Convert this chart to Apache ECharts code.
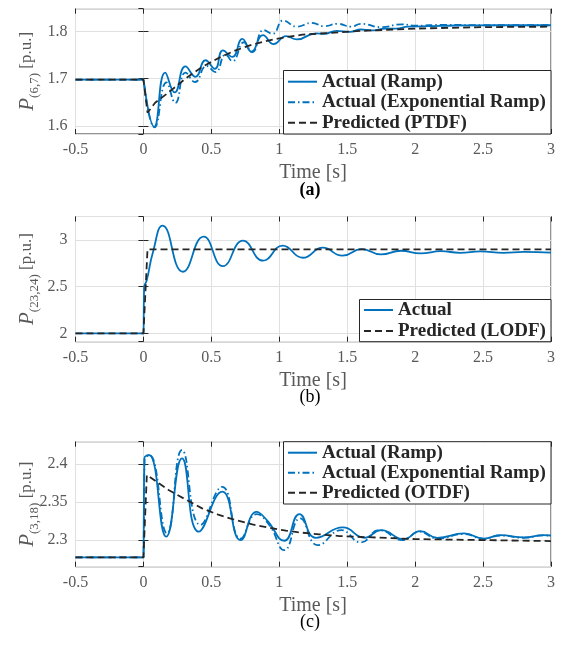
<!DOCTYPE html>
<html>
<head>
<meta charset="utf-8">
<script src="https://cdn.jsdelivr.net/npm/echarts@6/dist/echarts.min.js"></script>
<style>
  html, body { margin: 0; padding: 0; background: #fff; }
  #chart { width: 563px; height: 645px; }
</style>
</head>
<body>
<div id="chart"></div>
<script>
// (a) P(6,7), PTDF case
const tA_ramp = [-0.5, 0, 0.003, 0.079, 0.16, 0.23, 0.309, 0.383, 0.457, 0.526, 0.585, 0.654, 0.728, 0.795, 0.88, 0.958, 1.05, 1.13, 1.27, 1.33, 1.42, 1.52, 1.6, 1.68, 1.78, 1.86, 1.95, 2.1, 2.3, 2.6, 3.0];
const pA_ramp = [1.698, 1.698, 1.697, 1.598, 1.713, 1.671, 1.726, 1.704, 1.739, 1.721, 1.760, 1.746, 1.784, 1.757, 1.792, 1.773, 1.790, 1.783, 1.796, 1.795, 1.801, 1.799, 1.804, 1.802, 1.806, 1.806, 1.810, 1.811, 1.8125, 1.813, 1.813];
const tA_exp = [-0.5, 0, 0.003, 0.082, 0.17, 0.235, 0.31, 0.38, 0.465, 0.53, 0.605, 0.655, 0.74, 0.80, 0.885, 0.95, 1.03, 1.13, 1.24, 1.33, 1.43, 1.53, 1.6, 1.75, 1.9, 2.0, 2.2, 2.5, 3.0];
const pA_exp = [1.698, 1.698, 1.697, 1.597, 1.692, 1.649, 1.713, 1.693, 1.727, 1.714, 1.751, 1.737, 1.777, 1.756, 1.803, 1.795, 1.823, 1.810, 1.818, 1.811, 1.816, 1.810, 1.816, 1.809, 1.815, 1.812, 1.814, 1.813, 1.813];
const tA_ptdf = [-0.5, 0, 0.03, 0.086, 0.185, 0.309, 0.432, 0.556, 0.679, 0.802, 0.926, 1.05, 1.17, 1.38, 1.6, 2.0, 2.5, 3.0];
const pA_ptdf = [1.698, 1.698, 1.628, 1.649, 1.671, 1.700, 1.725, 1.744, 1.760, 1.772, 1.781, 1.788, 1.793, 1.797, 1.801, 1.806, 1.809, 1.810];

// (b) P(23,24), LODF case
const tB_act = [-0.5, 0, 0.001, 0.005, 0.025, 0.07, 0.141, 0.291, 0.444, 0.585, 0.733, 0.881, 1.025, 1.173, 1.32, 1.464, 1.607, 1.749, 1.895, 2.04, 2.19, 2.33, 2.48, 2.65, 2.8, 3.0];
const pB_act = [2.0, 2.0, 2.01, 2.49, 2.57, 2.87, 3.154, 2.66, 3.036, 2.72, 2.993, 2.779, 2.94, 2.81, 2.918, 2.832, 2.903, 2.845, 2.885, 2.856, 2.88, 2.863, 2.878, 2.863, 2.872, 2.865];
const tB_lodf = [-0.5, 0, 0.03, 3.0];
const pB_lodf = [2.0, 2.0, 2.9, 2.9];

// (c) P(3,18), OTDF case
const tC_ramp = [-0.5, 0, 0.001, 0.007, 0.042, 0.168, 0.284, 0.407, 0.58, 0.716, 0.832, 0.91, 1.037, 1.148, 1.27, 1.468, 1.627, 1.749, 1.915, 2.037, 2.163, 2.36, 2.505, 2.627, 2.8, 2.944, 3.0];
const pC_ramp = [2.2772, 2.2772, 2.279, 2.4075, 2.4118, 2.3044, 2.4075, 2.311, 2.3636, 2.300, 2.337, 2.326, 2.2991, 2.334, 2.303, 2.3166, 2.303, 2.313, 2.3013, 2.3118, 2.303, 2.3087, 2.302, 2.3065, 2.3035, 2.3065, 2.306];
const tC_exp = [-0.5, 0, 0.001, 0.008, 0.045, 0.173, 0.284, 0.42, 0.58, 0.716, 0.832, 0.926, 1.037, 1.153, 1.284, 1.456, 1.6, 1.737, 1.907, 2.03, 2.163, 2.36, 2.505, 2.627, 2.8, 2.944, 3.0];
const pC_exp = [2.2772, 2.2772, 2.279, 2.405, 2.4115, 2.309, 2.4184, 2.320, 2.370, 2.302, 2.334, 2.320, 2.2868, 2.3285, 2.2934, 2.313, 2.297, 2.313, 2.300, 2.311, 2.302, 2.308, 2.3015, 2.306, 2.303, 2.3062, 2.3058];
const tC_otdf = [-0.5, 0, 0.025, 0.185, 0.309, 0.432, 0.556, 0.679, 0.802, 0.926, 1.049, 1.173, 1.296, 1.444, 2.0, 2.5, 3.0];
const pC_otdf = [2.2772, 2.2772, 2.3855, 2.3658, 2.3535, 2.3417, 2.333, 2.3263, 2.3206, 2.3162, 2.3123, 2.3096, 2.3075, 2.3053, 2.3013, 2.300, 2.2987];

const yRanges = [[1.583, 1.848], [1.91, 3.252], [2.265, 2.4293]];
const ySubs = ['(6,7)', '(23,24)', '(3,18)'];
const captions = ['(a)', '(b)', '(c)'];

const SERIF = '"Liberation Serif", "Times New Roman", serif';
const BLUE = '#0072BD';
const DARK = '#262626';
const GREY = '#595959';

const grids = [
  { left: 75.5, top: 8.7, width: 475.5, height: 125.3 },
  { left: 75.5, top: 216.5, width: 475.5, height: 125.2 },
  { left: 75.5, top: 441.7, width: 475.5, height: 125 }
];

const zip = (t, v) => t.map((x, i) => [x, v[i]]);

const xAxes = [], yAxes = [];
grids.forEach((g, i) => {
  const tick = { inside: true, length: 5, lineStyle: { color: DARK } };
  xAxes.push({
    type: 'value', gridIndex: i, min: -0.5, max: 3, interval: 0.5, position: 'bottom',
    axisLine: { show: false }, axisTick: tick,
    axisLabel: { fontFamily: SERIF, fontSize: 16, color: GREY, margin: 8 },
    splitLine: { lineStyle: { color: '#e0e0e0' } }
  });
  xAxes.push({
    type: 'value', gridIndex: i, min: -0.5, max: 3, interval: 0.5, position: 'top',
    axisLine: { show: false }, axisTick: tick, axisLabel: { show: false }, splitLine: { show: false }
  });
  yAxes.push({
    type: 'value', gridIndex: i, min: yRanges[i][0], max: yRanges[i][1], splitNumber: 3, position: 'left',
    axisLine: { show: false }, axisTick: tick,
    axisLabel: { fontFamily: SERIF, fontSize: 16, color: GREY, margin: 8, showMinLabel: false, showMaxLabel: false },
    splitLine: { lineStyle: { color: '#e0e0e0' } }
  });
  yAxes.push({
    type: 'value', gridIndex: i, min: yRanges[i][0], max: yRanges[i][1], splitNumber: 3, position: 'right',
    axisLine: { show: false }, axisTick: tick, axisLabel: { show: false }, splitLine: { show: false }
  });
});

function line(name, t, v, gi, color, type, smooth) {
  return {
    type: 'line', name: name, data: zip(t, v), xAxisIndex: gi * 2, yAxisIndex: gi * 2,
    symbol: 'none', showSymbol: false, smooth: smooth, animation: false,
    lineStyle: { color: color, width: 1.8, type: type }, itemStyle: { color: color }
  };
}
const DASHDOT = [7, 3, 1.5, 3];
const DASHED = [7, 4];

const series = [
  line('Actual (Ramp)', tA_ramp, pA_ramp, 0, BLUE, 'solid', 0.5),
  line('Actual (Exponential Ramp)', tA_exp, pA_exp, 0, BLUE, DASHDOT, 0.5),
  line('Predicted (PTDF)', tA_ptdf, pA_ptdf, 0, DARK, DASHED, false),
  line('Actual', tB_act, pB_act, 1, BLUE, 'solid', 0.5),
  line('Predicted (LODF)', tB_lodf, pB_lodf, 1, DARK, DASHED, false),
  line('Actual (Ramp)', tC_ramp, pC_ramp, 2, BLUE, 'solid', 0.5),
  line('Actual (Exponential Ramp)', tC_exp, pC_exp, 2, BLUE, DASHDOT, 0.5),
  line('Predicted (OTDF)', tC_otdf, pC_otdf, 2, DARK, DASHED, false)
];

const legText = { fontFamily: SERIF, fontWeight: 'bold', fontSize: 19, color: DARK, lineHeight: 17 };
function legend(names, left, top, gap) {
  return {
    data: names, orient: 'vertical', left: left, top: top, padding: 0,
    itemWidth: 29, itemHeight: 17, itemGap: gap, textStyle: legText,
    // hide the marker dot, keep only the line sample
    itemStyle: { color: 'transparent', borderColor: 'transparent', borderWidth: 0 },
    selectedMode: false, z: 60
  };
}

const graphics = [];
// legend boxes
[[283.5, 70.5, 267.5, 63.5], [359.5, 299.5, 191.5, 42.2], [283.5, 441.7, 267.5, 62.3]].forEach(b => {
  graphics.push({
    type: 'rect', z: 50, shape: { x: b[0], y: b[1], width: b[2], height: b[3] },
    style: { fill: '#fff', stroke: DARK, lineWidth: 1 }
  });
});
grids.forEach((g, i) => {
  const bottom = g.top + g.height;
  graphics.push({
    type: 'text', x: 27, y: g.top + g.height / 2, rotation: Math.PI / 2, z: 50,
    style: {
      text: '{p|P}{s|' + ySubs[i] + '}{u| [p.u.]}', align: 'center', verticalAlign: 'middle',
      textAlign: 'center', textVerticalAlign: 'middle', fill: GREY,
      rich: {
        p: { fontFamily: SERIF, fontStyle: 'italic', fontSize: 21, lineHeight: 22, fill: GREY },
        s: { fontFamily: SERIF, fontSize: 13, lineHeight: 13, padding: [16, 0, 0, 0], fill: GREY },
        u: { fontFamily: SERIF, fontSize: 17, lineHeight: 22, fill: GREY }
      }
    }
  });
  graphics.push({
    type: 'text', x: 313, y: bottom + 39, z: 50,
    style: { text: 'Time [s]', font: '20px ' + SERIF, fill: GREY, align: 'center', verticalAlign: 'middle', textAlign: 'center', textVerticalAlign: 'middle' }
  });
  graphics.push({
    type: 'text', x: 310, y: bottom + 56, z: 50,
    style: { text: captions[i], font: (i === 0 ? 'bold ' : '') + '18px ' + SERIF, fill: '#000', align: 'center', verticalAlign: 'middle', textAlign: 'center', textVerticalAlign: 'middle' }
  });
});

const chart = echarts.init(document.getElementById('chart'), null, { renderer: 'canvas' });
chart.setOption({
  animation: false,
  backgroundColor: '#fff',
  grid: grids.map(g => Object.assign({ show: true, borderColor: DARK, borderWidth: 1, backgroundColor: 'transparent' }, g)),
  xAxis: xAxes,
  yAxis: yAxes,
  legend: [
    legend(['Actual (Ramp)', 'Actual (Exponential Ramp)', 'Predicted (PTDF)'], 287, 72.2, 1.5),
    legend(['Actual', 'Predicted (LODF)'], 363, 300.5, 2),
    legend(['Actual (Ramp)', 'Actual (Exponential Ramp)', 'Predicted (OTDF)'], 287, 443.2, 1)
  ],
  graphic: graphics,
  series: series
});
</script>
</body>
</html>
